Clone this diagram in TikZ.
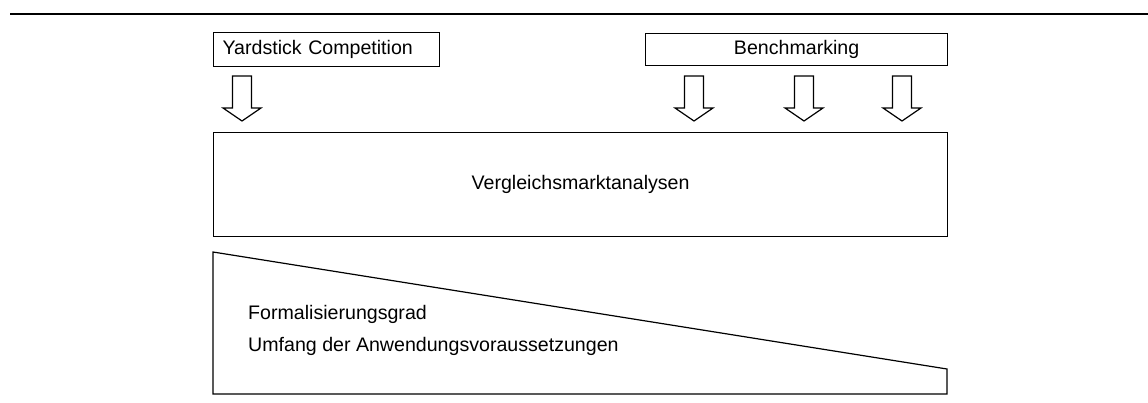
\documentclass[tikz,border=0pt]{standalone}
\usepackage{fontspec}
\setmainfont{Liberation Sans}
\usepackage{tikz}
\usetikzlibrary{calc}
% hollow block arrow, centred at x, from y=#2 down to the tip at y=#3
\def\hollowarrow[#1](#2:#3:#4){\draw[#1] (#2-9.5,#3) -- (#2+9.5,#3) -- (#2+9.5,#4-13) -- (#2+19,#4-13) -- (#2,#4) -- (#2-19,#4-13) -- (#2-9.5,#4-13) -- cycle;}

\begin{document}
\begin{tikzpicture}[x=1pt,y=-1pt,
	box/.style={draw, line width=1.2pt, inner sep=0pt, anchor=north west},
	lbl/.style={font=\fontsize{19.6}{23.5}\selectfont}]
		%%%%% START %%%%%
		\useasboundingbox (0,0) rectangle (1148,403);
		
		\draw[line width=2.4pt] (10,14) -- (1148,14);
		
		\node[box, lbl, minimum width=226, minimum height=34, text width=208, inner xsep=9, align=left] (yard) at (213,32) {Yardstick Competition};
		\node[box, lbl, minimum width=302, minimum height=32] (bench) at (645,33) {Benchmarking};
		
		\hollowarrow[line width=1.2pt](242:76:121);
		\foreach \xa in {694, 804, 902}
			\hollowarrow[line width=1.2pt](\xa:76:121);
		
		\node[box, lbl, minimum width=734, minimum height=104] (markt) at (213,132) {\raisebox{-4pt}{Vergleichsmarktanalysen}};
		
		\draw[line width=1.2pt] (213,252) -- (947,369) -- (947,394) -- (213,394) -- cycle;
		\node[lbl, anchor=base west, inner sep=0pt] (grad) at (248,319) {Formalisierungsgrad};
		\node[lbl, anchor=base west, inner sep=0pt] (umfang) at (248,351) {Umfang der Anwendungsvoraussetzungen};
		
		%%%%% END %%%%%
	\end{tikzpicture}
\end{document}
